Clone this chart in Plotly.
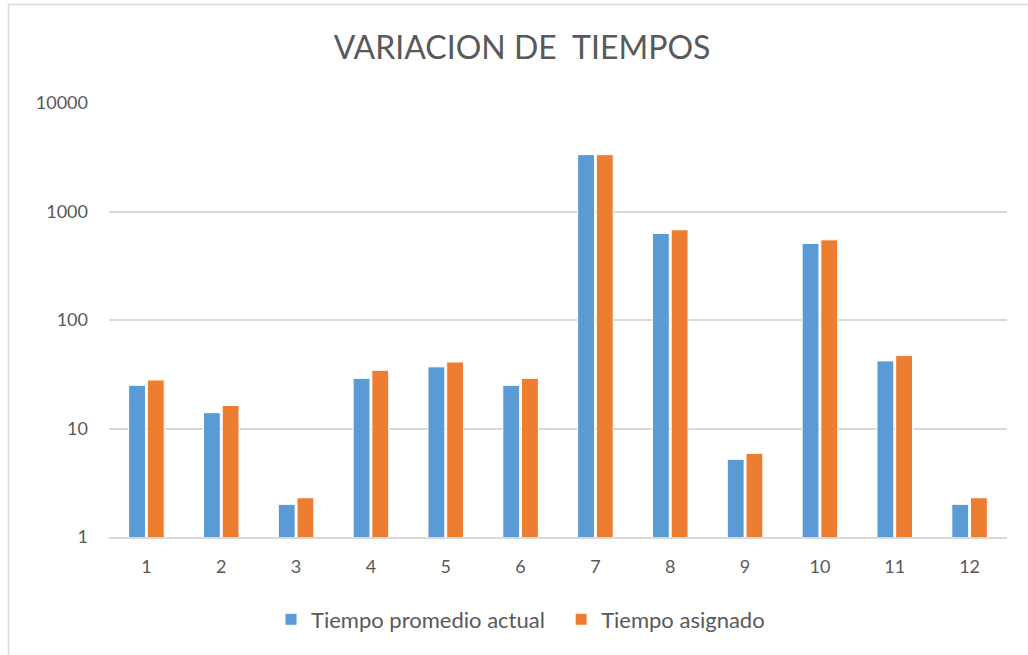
import plotly.graph_objects as go

categories = ["1", "2", "3", "4", "5", "6", "7", "8", "9", "10", "11", "12"]
tiempo_promedio_actual = [25, 14, 2, 29, 37, 25, 3340, 627, 5.2, 507, 42, 2]
tiempo_asignado = [28, 16.3, 2.3, 34.4, 41, 29, 3340, 678, 5.9, 548, 47, 2.3]
y_ticks = [1, 10, 100, 1000, 10000]

FONT = "Lato"
TXT = "#595959"

fig = go.Figure()
fig.add_trace(go.Bar(x=categories, y=tiempo_promedio_actual,
                     name="Tiempo promedio actual" + "\u00a0" * 2,
                     marker=dict(color="#5B9BD5", line=dict(color="white", width=1))))
fig.add_trace(go.Bar(x=categories, y=tiempo_asignado, name="Tiempo asignado",
                     marker=dict(color="#ED7D31", line=dict(color="white", width=1))))

fig.update_layout(
    width=1028, height=655,
    margin=dict(l=109, r=21, t=103, b=118),
    paper_bgcolor="white", plot_bgcolor="white",
    title=dict(text="VARIACION DE\u00a0\u00a0TIEMPOS", x=522 / 1028, xanchor="center",
               y=1 - 48 / 655, yanchor="middle", xref="container",
               font=dict(family=FONT, size=32, color=TXT)),
    barmode="group", bargap=0.5, bargroupgap=0.1,
    font=dict(family=FONT, size=18, color=TXT),
    legend=dict(orientation="h", x=(271 - 109) / 898, xanchor="left", y=-0.19, yanchor="middle",
                font=dict(family=FONT, size=22, color=TXT), itemwidth=30),
    showlegend=True,
)
fig.update_xaxes(type="category", showgrid=False, showline=True, linecolor="#d9d9d9",
                 linewidth=1.5, ticks="", tickfont=dict(size=18, color=TXT),
                 ticklabelstandoff=13)
fig.update_yaxes(type="log", range=[0, 4], tickvals=y_ticks, ticktext=[str(v) for v in y_ticks],
                 showgrid=True, gridcolor="#d9d9d9", gridwidth=1.5, zeroline=False,
                 showline=False, ticks="", tickfont=dict(size=18, color=TXT),
                 ticklabelstandoff=20)

# chart border
fig.add_shape(type="rect", xref="paper", yref="paper",
              x0=(8.5 - 109) / 898, x1=(1040 - 109) / 898,
              y0=(537 - 670) / 434, y1=1 + (103 - 4.5) / 434,
              line=dict(color="#d9d9d9", width=1.5), fillcolor="rgba(0,0,0,0)", layer="below")

fig.write_html("out.html", config={"displayModeBar": False},
               post_script="document.body.style.margin='0';document.body.style.overflow='hidden';")
